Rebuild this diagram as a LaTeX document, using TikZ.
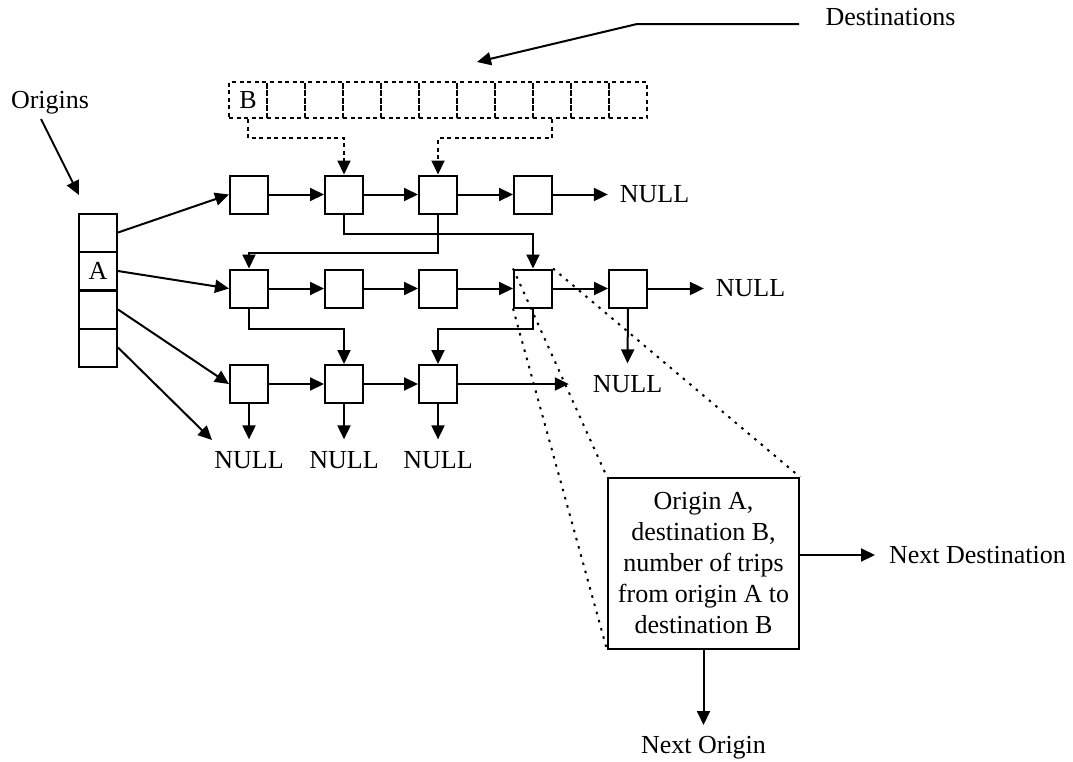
\documentclass[tikz,border=0pt]{standalone}
\usepackage{fontspec}
\setmainfont{Liberation Serif}
\usetikzlibrary{arrows.meta}
\begin{document}
\begin{tikzpicture}[x=1pt,y=-1pt,
  line width=2pt,
  every node/.style={font=\fontsize{26}{31}\selectfont},
  cell/.style={draw, minimum width=38pt, minimum height=38pt, inner sep=0pt},
  dcell/.style={draw, dash pattern=on 4pt off 3.5pt, minimum width=38pt, minimum height=36pt, inner sep=0pt},
  lbl/.style={inner sep=0pt},
  nulllbl/.style={inner sep=11pt},
  arr/.style={-{Triangle[length=14pt,width=13pt]}},
  dasharr/.style={arr, dash pattern=on 4pt off 3.5pt},
  zoomline/.style={dash pattern=on 2.5pt off 6pt}
]
\useasboundingbox (0,0) rectangle (1073,761);

% destination array
\foreach \i in {1,...,11}
  \node[dcell] (d\i) at ({229+19+38*(\i-1)},100) {};
\node[lbl] at (d1) {B};

% origin array
\node[cell] (o1) at (98,232.5) {};
\node[cell] (o2) at (98,271) {A};
\node[cell] (o3) at (98,309.5) {};
\node[cell] (o4) at (98,347.5) {};

% linked list cells
\foreach \c/\x in {1/249,2/344,3/438,4/533}
  \node[cell] (r1c\c) at (\x,194.5) {};
\foreach \c/\x in {1/249,2/344,3/438,4/533,5/628}
  \node[cell] (r2c\c) at (\x,288.5) {};
\foreach \c/\x in {1/249,2/344,3/438}
  \node[cell] (r3c\c) at (\x,384) {};

% NULL terminators
\node[nulllbl] (n1) at (654.5,194.5) {NULL};
\node[nulllbl] (n2) at (750.5,288.5) {NULL};
\node[nulllbl] (n3) at (627.5,384) {NULL};
\node[nulllbl] (n4) at (249,460) {NULL};
\node[nulllbl] (n5) at (344,460) {NULL};
\node[nulllbl] (n6) at (438,460) {NULL};

% labels
\node[lbl] (dest) at (890.5,17) {Destinations};
\node[lbl, anchor=base] (orig) at (50,108) {Origins};
\coordinate (dstart) at (799,24);
\coordinate (dbend) at (637,24);
\coordinate (dtip) at (477,62);
\coordinate (ostart) at (41,119);
\coordinate (otip) at (79,195);
\coordinate (o4tip) at (212,440);

\draw[arr] (dstart) -- (dbend) -- (dtip);
\draw[arr] (ostart) -- (otip);

% detail record
\node[draw, minimum width=191pt, minimum height=171pt, inner sep=0pt, align=center]
  (info) at (703.5,563.5) {Origin A,\\destination B,\\number of trips\\from origin A to\\destination B};
\node[lbl, inner sep=13pt, anchor=west] (ndest) at (875,555) {Next Destination};
\node[lbl, inner sep=10pt, anchor=north] (norig) at (703.5,725) {Next Origin};
\draw[arr] ([yshift=8.5pt]info.east) -- (ndest.west);
\draw[arr] (info.south) -- (norig.north);

% origins to first cells
\draw[arr] (o1.east) -- (r1c1.west);
\draw[arr] (o2.east) -- (r2c1.west);
\draw[arr] (o3.east) -- (r3c1.west);
\draw[arr] (o4.east) -- (o4tip);

% destination pointers
\draw[dasharr] (d1.south) -- ++(0,19) -| (r1c2.north);
\draw[dasharr] (d9.south) -- ++(0,19) -| (r1c3.north);

% next-destination links
\draw[arr] (r1c1) -- (r1c2);
\draw[arr] (r1c2) -- (r1c3);
\draw[arr] (r1c3) -- (r1c4);
\draw[arr] (r1c4.east) -- (n1.west);
\draw[arr] (r2c1) -- (r2c2);
\draw[arr] (r2c2) -- (r2c3);
\draw[arr] (r2c3) -- (r2c4);
\draw[arr] (r2c4) -- (r2c5);
\draw[arr] (r2c5.east) -- (n2.west);
\draw[arr] (r3c1) -- (r3c2);
\draw[arr] (r3c2) -- (r3c3);
\draw[arr, shorten >=12pt] (r3c3.east) -- (r3c3.east -| n3.west);

% next-origin links
\draw[arr] (r1c2.south) -- ++(0,19) -| (r2c4.north);
\draw[arr] (r1c3.south) -- ++(0,38) -| (r2c1.north);
\draw[arr] (r2c1.south) -- ++(0,20) -| (r3c2.north);
\draw[arr] (r2c4.south) -- ++(0,20) -| (r3c3.north);
\draw[arr] (r2c5.south) -- (n3.north);
\draw[arr] (r3c1.south) -- (n4.north);
\draw[arr] (r3c2.south) -- (n5.north);
\draw[arr] (r3c3.south) -- (n6.north);

% magnified view of one record
\draw[zoomline] (r2c4.north west) -- (info.north west);
\draw[zoomline] (r2c4.north east) -- (info.north east);
\draw[zoomline] (r2c4.south west) -- (info.south west);
\end{tikzpicture}
\end{document}
